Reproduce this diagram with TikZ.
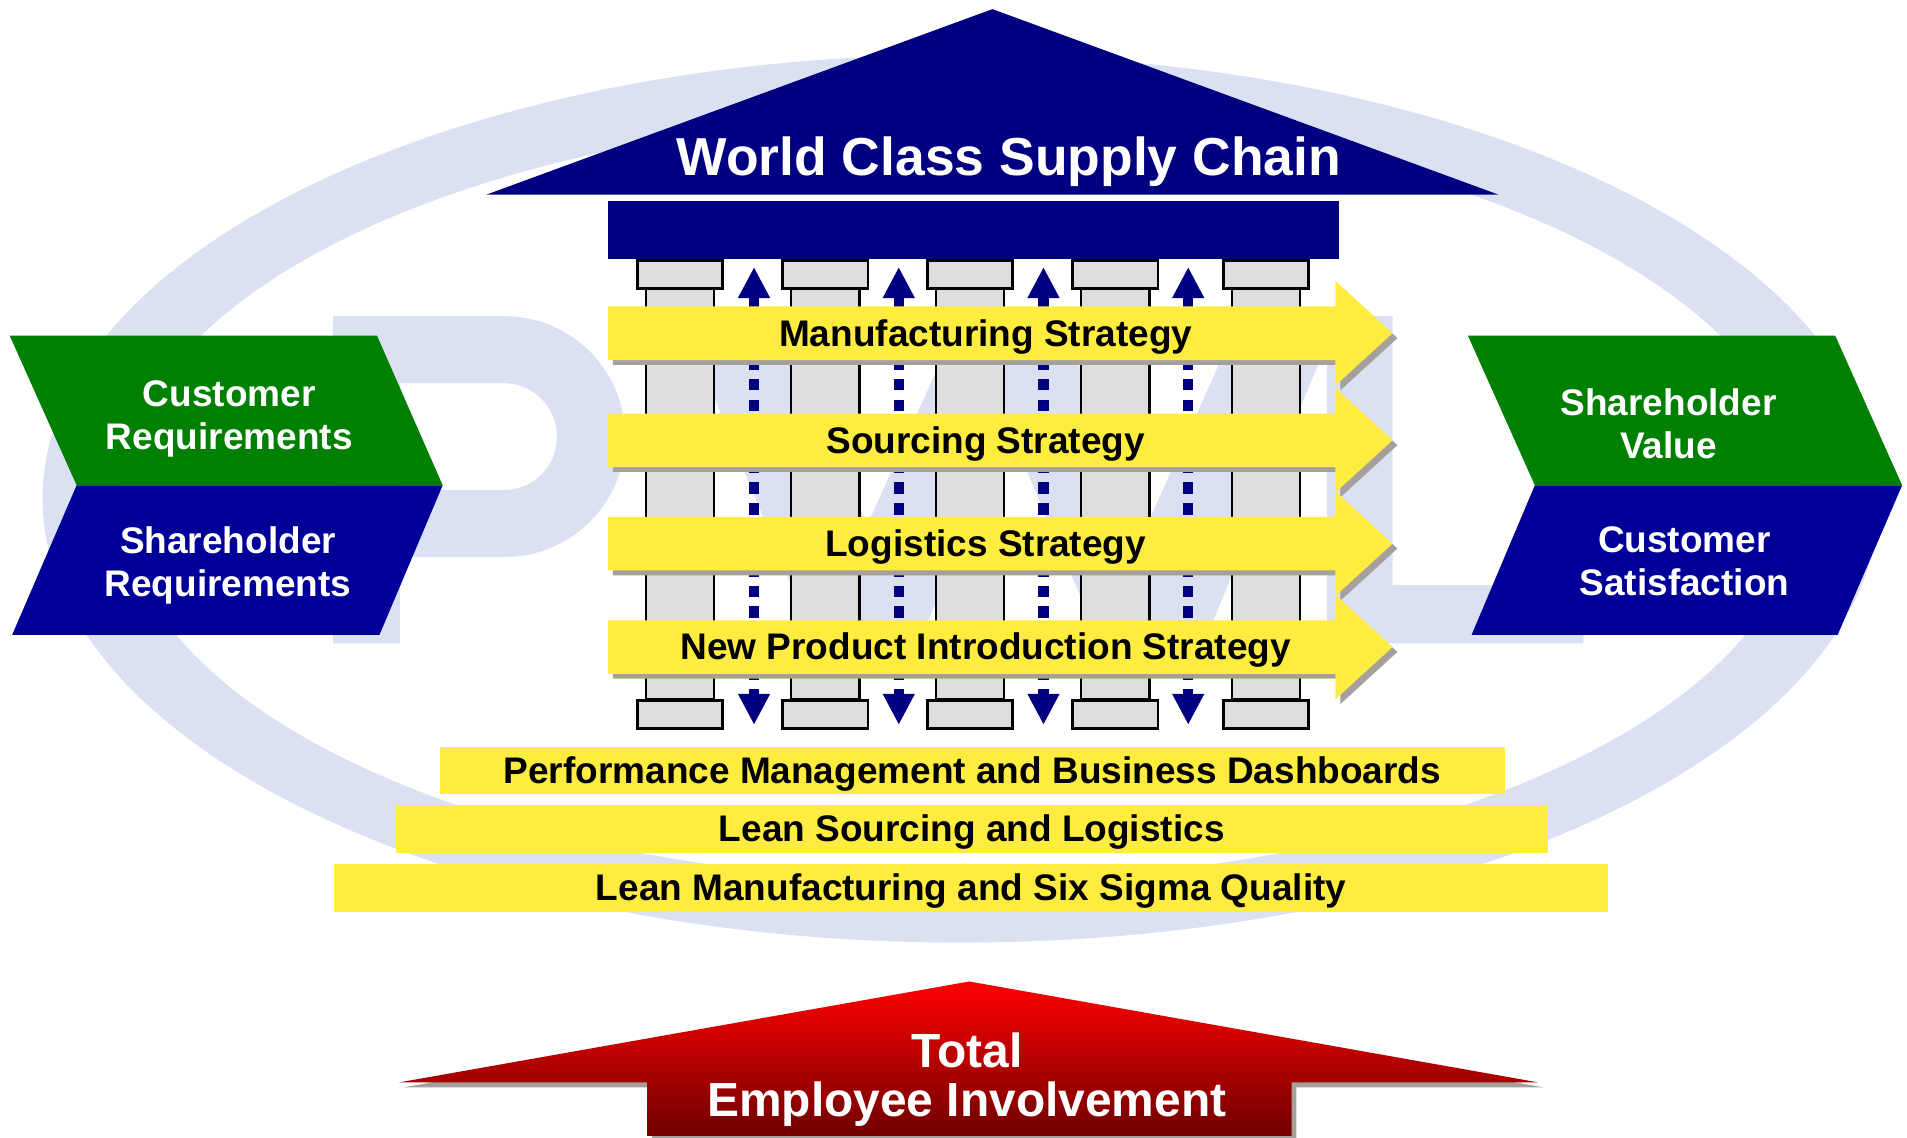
\documentclass[tikz,border=0pt]{standalone}
\usepackage{fontspec}
\setmainfont{Liberation Sans}
\usetikzlibrary{arrows.meta,shadows}
\definecolor{roofnavy}{RGB}{0,0,128}
\definecolor{chevgreen}{RGB}{0,128,0}
\definecolor{chevblue}{RGB}{0,0,153}
\definecolor{stratyellow}{RGB}{255,236,64}
\definecolor{shadowgray}{RGB}{165,160,155}
\definecolor{pillargray}{RGB}{221,221,221}
\definecolor{wmblue}{RGB}{219,225,243}
\definecolor{redtop}{RGB}{255,0,0}
\definecolor{redbot}{RGB}{112,0,0}

\begin{document}
\begin{tikzpicture}[x=0.01cm,y=-0.01cm,
  wm/.style={fill=wmblue,even odd rule},
  shaft/.style={draw,line width=0.6pt,fill=pillargray,minimum width=0.56cm,
                minimum height=3.38cm,inner sep=0},
  pcap/.style={draw,line width=0.6pt,fill=pillargray,minimum width=0.70cm,
               minimum height=0.23cm,inner sep=0},
  updown/.style={draw=roofnavy,line width=0.085cm,dash pattern=on 0.096cm off 0.074cm,
                 {Triangle[width=0.245cm,length=0.255cm]}-{Triangle[width=0.245cm,length=0.255cm]}},
  strat/.style={fill=stratyellow,
                drop shadow={shadow xshift=0.04cm,shadow yshift=-0.04cm,fill=shadowgray,opacity=1}},
  strtxt/.style={font=\fontsize{8.65}{10}\selectfont\bfseries,inner sep=0,
                 text height=0.26cm,text depth=0.05cm},
  bar/.style={strtxt,fill=stratyellow,minimum height=0.39cm},
  chevtxt/.style={text=white,align=center,inner sep=0,font=\fontsize{8.65}{9.96}\selectfont\bfseries},
  redup/.style={top color=redtop,bottom color=redbot,
                drop shadow={shadow xshift=0.04cm,shadow yshift=-0.04cm,fill=shadowgray,opacity=1}},
]
\useasboundingbox (0,0) rectangle (1568,935);

% Watermark behind everything
\fill[wm] (790,410) ellipse [x radius=755,y radius=365]
          (790,410) ellipse [x radius=690,y radius=315];
\fill[wm] (274,529) -- (274,260) -- (415,260) arc[start angle=-90,end angle=90,radius=99]
          -- (329,458) -- (329,529) -- cycle
          (329,315) -- (414,315) arc[start angle=-90,end angle=90,radius=44] -- (329,403) -- cycle;
\fill[wm] (560,260) -- (640,260) -- (713,432) -- (790,260) -- (870,260) -- (943,432)
          -- (1020,260) -- (1100,260) -- (990,529) -- (905,529) -- (830,354) -- (755,529)
          -- (670,529) -- cycle;
\fill[wm] (1091,260) -- (1145,260) -- (1145,481) -- (1302,481) -- (1302,529) -- (1091,529) -- cycle;

% Roof and beam
\fill[roofnavy] (400,160) -- (816,7.5) -- (1232,160) -- cycle;
\fill[roofnavy] (500,165) rectangle (1101,213);
\node[font=\fontsize{12.5}{15}\selectfont\bfseries,text=white,anchor=base,inner sep=0]
  (wcsc) at (829.5,144.5) {World Class Supply Chain};

% Pillars
\foreach \cx [count=\i] in {559,678.5,797.5,917,1041}{
  \node[shaft] (shaft\i) at (\cx,406) {};
}
\foreach \dx [count=\i] in {620,739,858,977}{
  \coordinate (up\i) at (\dx,219.5);
  \coordinate (dn\i) at (\dx,596);
  \draw[updown] (up\i) -- (dn\i);
}
\foreach \cx [count=\i] in {559,678.5,797.5,917,1041}{
  \node[pcap] (captop\i) at (\cx,225.5) {};
  \node[pcap] (capbot\i) at (\cx,587.5) {};
}

% Strategy arrows
\foreach \y/\nm/\txt in {274/mfg/Manufacturing Strategy,362/src/Sourcing Strategy,
    447/lgs/Logistics Strategy,532/npi/New Product Introduction Strategy}{
  \fill[strat] (500,\y-22) -- (1098,\y-22) -- (1098,\y-43) -- (1145,\y)
    -- (1098,\y+43) -- (1098,\y+22) -- (500,\y+22) -- cycle;
  \node[strtxt] (\nm) at (810.5,\y) {\txt};
}

% Foundation bars
\node[bar,minimum width=8.75cm] (pmbd) at (799.5,633.5) {Performance Management and Business Dashboards};
\node[bar,minimum width=9.47cm] (lsl) at (799,681.5) {Lean Sourcing and Logistics};
\node[bar,minimum width=10.47cm] (lmss) at (798.5,730) {Lean Manufacturing and Six Sigma Quality};

% Chevrons
\fill[chevgreen] (8,276) -- (310,276) -- (364,399) -- (63,399) -- cycle;
\fill[chevblue] (63,399) -- (364,399) -- (312,522) -- (10,522) -- cycle;
\node[chevtxt] (custreq) at (188.5,344.6) {Customer\\Requirements};
\node[chevtxt] (shreq) at (187.5,464.7) {Shareholder\\Requirements};
\fill[chevgreen] (1207,276) -- (1509,276) -- (1564,399) -- (1262,399) -- cycle;
\fill[chevblue] (1262,399) -- (1564,399) -- (1511,522) -- (1210,522) -- cycle;
\node[chevtxt] (shval) at (1372,348.3) {Shareholder\\Value};
\node[chevtxt] (custsat) at (1385,461.5) {Customer\\Satisfaction};

% Employee involvement arrow
\shade[redup] (328,890) -- (797,807) -- (1265,890) -- (1062,890) -- (1062,934)
  -- (532,934) -- (532,890) -- cycle;
\node[font=\fontsize{11.2}{11.4}\selectfont\bfseries,text=white,align=center,inner sep=0]
  (tei) at (795,887.5) {Total\\Employee Involvement};
\end{tikzpicture}
\end{document}
